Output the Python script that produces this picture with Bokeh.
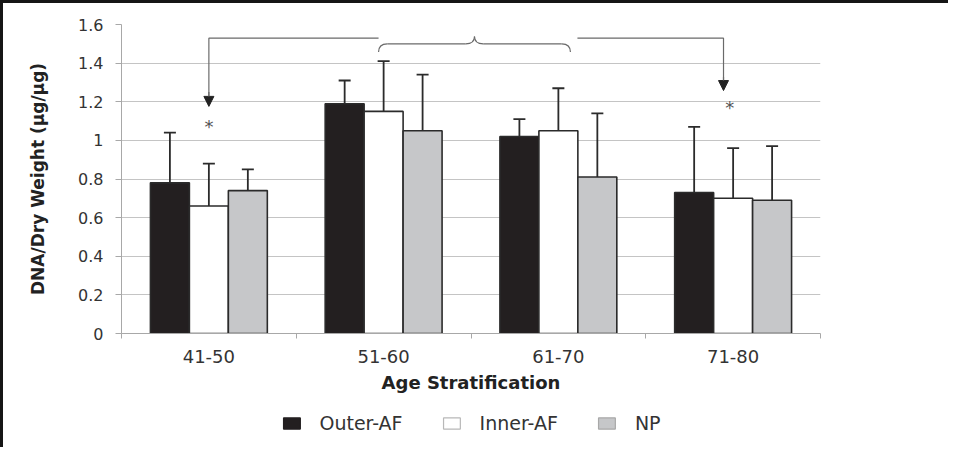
from bokeh.plotting import figure
from bokeh.layouts import column
from bokeh.models import (ColumnDataSource, Whisker, TeeHead, Legend, LegendItem,
                          FixedTicker, NumeralTickFormatter, Arrow, NormalHead)
from bokeh.core.properties import value
from bokeh.embed import file_html
from bokeh.resources import INLINE

# ---- data ----
categories = ["41-50", "51-60", "61-70", "71-80"]
series = ["Outer-AF", "Inner-AF", "NP"]
outer_af = [0.78, 1.19, 1.02, 0.73]
outer_af_err = [1.04, 1.31, 1.11, 1.07]
inner_af = [0.66, 1.15, 1.05, 0.70]
inner_af_err = [0.88, 1.41, 1.27, 0.96]
np_vals = [0.74, 1.05, 0.81, 0.69]
np_err = [0.85, 1.34, 1.14, 0.97]
y_ticks = [0, 0.2, 0.4, 0.6, 0.8, 1.0, 1.2, 1.4, 1.6]

# ---- styles / annotation geometry ----
colors = ["#231f20", "#ffffff", "#c6c7c9"]
legend_outline = ["#231f20", "#b8b8b8", "#a8a8a8"]
offsets = [-0.223, 0.0, 0.223]
bar_w = 0.223
FONT = "DejaVu Sans"
TXT = "#333333"
GRID = "#c4c4c4"
W = 945

p = figure(width=W, height=396, output_backend="svg", toolbar_location=None,
           x_range=(0, 4), y_range=(0, 1.6),
           min_border_left=118, min_border_right=128, min_border_top=21, min_border_bottom=66)
p.outline_line_color = None
p.xgrid.grid_line_color = None
p.ygrid.grid_line_color = GRID
p.ygrid.ticker = FixedTicker(ticks=y_ticks)

centers = [i + 0.5 for i in range(len(categories))]
vals = [outer_af, inner_af, np_vals]
errs = [outer_af_err, inner_af_err, np_err]
for k, name in enumerate(series):
    src = ColumnDataSource(dict(x=[c + offsets[k] for c in centers], top=vals[k], up=errs[k]))
    p.vbar(x="x", top="top", bottom=0, width=bar_w, source=src,
           fill_color=colors[k], line_color="#2b2b2b", line_width=1.6)
    w = Whisker(base="x", lower="top", upper="up", source=src, dimension="height",
                line_color="#2b2b2b", line_width=1.8,
                upper_head=TeeHead(size=12, line_color="#2b2b2b", line_width=1.8),
                lower_head=None)
    p.add_layout(w)

# axes
xa = p.xaxis[0]
xa.ticker = FixedTicker(ticks=centers, minor_ticks=[0, 1, 2, 3, 4])
xa.major_label_overrides = {c: lab for c, lab in zip(centers, categories)}
xa.major_tick_line_color = None
xa.major_tick_out = 0
xa.major_tick_in = 0
xa.minor_tick_line_color = "#a8a8a8"
xa.minor_tick_out = 5
xa.minor_tick_in = 0
xa.axis_line_color = "#a8a8a8"
xa.major_label_text_font = FONT
xa.major_label_text_font_size = "18px"
xa.major_label_text_color = TXT
xa.major_label_standoff = 11
xa.axis_label = "Age Stratification"
xa.axis_label_text_font = FONT
xa.axis_label_text_font_style = "bold"
xa.axis_label_text_font_size = "18px"
xa.axis_label_text_color = "#222222"
xa.axis_label_standoff = 6

ya = p.yaxis[0]
ya.ticker = FixedTicker(ticks=y_ticks)
ya.formatter = NumeralTickFormatter(format="0.[0]")
ya.axis_line_color = "#a8a8a8"
ya.major_tick_line_color = "#a8a8a8"
ya.major_tick_out = 6
ya.major_tick_in = 0
ya.minor_tick_line_color = None
ya.major_label_text_font = FONT
ya.major_label_text_font_size = "16px"
ya.major_label_text_color = TXT
ya.major_label_standoff = 12
ya.axis_label = "DNA/Dry Weight (μg/μg)"
ya.axis_label_text_font = FONT
ya.axis_label_text_font_style = "bold"
ya.axis_label_text_font_size = "17px"
ya.axis_label_text_color = "#222222"
ya.axis_label_standoff = 27

# significance bracket annotations
line_y = 1.529
left_x, right_x = 0.5, 3.445
brace_l, brace_r, brace_mid = 1.471, 2.569, 2.02
brace_end_y, brace_mid_y, brace_peak_y = 1.457, 1.500, 1.538
ANN = "#6a6a6a"
p.line([left_x, left_x, brace_l], [1.20, line_y, line_y], line_color=ANN, line_width=1.2)
p.line([2.609, right_x, right_x], [line_y, line_y, 1.28], line_color=ANN, line_width=1.2)
p.add_layout(Arrow(end=NormalHead(size=10, fill_color="#222222", line_color="#222222"),
                   x_start=left_x, y_start=1.25, x_end=left_x, y_end=1.176,
                   line_color=ANN, line_width=1.2))
p.add_layout(Arrow(end=NormalHead(size=10, fill_color="#222222", line_color="#222222"),
                   x_start=right_x, y_start=1.33, x_end=right_x, y_end=1.258,
                   line_color=ANN, line_width=1.2))
p.quadratic(x0=[brace_l, brace_mid - 0.05, brace_mid + 0.05, brace_r],
            y0=[brace_end_y, brace_mid_y, brace_mid_y, brace_end_y],
            x1=[brace_l + 0.05, brace_mid, brace_mid, brace_r - 0.05],
            y1=[brace_mid_y, brace_peak_y, brace_peak_y, brace_mid_y],
            cx=[brace_l, brace_mid, brace_mid, brace_r],
            cy=[brace_mid_y, brace_mid_y, brace_mid_y, brace_mid_y],
            line_color=ANN, line_width=1.2)
p.segment(x0=[brace_l + 0.05, brace_mid + 0.05], y0=[brace_mid_y, brace_mid_y],
          x1=[brace_mid - 0.05, brace_r - 0.05], y1=[brace_mid_y, brace_mid_y],
          line_color=ANN, line_width=1.2)
p.text(x=[0.5, 3.48], y=[1.07, 1.17], text=["*", "*"], text_align="center",
       text_baseline="middle", text_font=value(FONT), text_font_size="18px",
       text_color="#555555")

# legend strip (separate small figure below the chart; its placeholder glyphs are
# zero-sized so only the legend swatches show)
pl = figure(width=W, height=48, output_backend="svg", toolbar_location=None,
            x_range=(0, 1), y_range=(0, 1), min_border_left=0, min_border_right=0,
            min_border_top=0, min_border_bottom=0)
pl.xaxis.visible = False
pl.yaxis.visible = False
pl.xgrid.visible = False
pl.ygrid.visible = False
pl.outline_line_color = None
items = []
for k, name in enumerate(series):
    lsrc = ColumnDataSource(dict(x=[0.02], top=[0.02], bottom=[0.02]))
    r = pl.vbar(x="x", top="top", bottom="bottom", width=0.0, source=lsrc,
                fill_color=colors[k], line_color=legend_outline[k], line_width=1.2)
    items.append(LegendItem(label=name, renderers=[r]))
legend = Legend(items=items, orientation="horizontal", location="center",
                glyph_width=21, glyph_height=14, label_standoff=18, spacing=38,
                label_text_font=FONT, label_text_font_size="19px", label_text_color=TXT,
                border_line_color=None, background_fill_alpha=0, padding=6, margin=0)
pl.add_layout(legend)

layout = column(p, pl, spacing=0,
                styles={"border-left": "3px solid #151515", "border-top": "3px solid #151515"})

open("out.html", "w").write(file_html(layout, INLINE))
